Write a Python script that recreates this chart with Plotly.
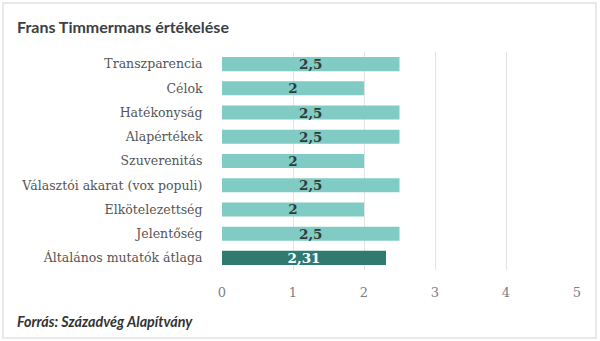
import plotly.graph_objects as go

categories = ["Transzparencia", "Célok", "Hatékonyság", "Alapértékek", "Szuverenitás",
              "Választói akarat (vox populi)", "Elkötelezettség", "Jelentőség",
              "Általános mutatók átlaga"]
values = [2.5, 2, 2.5, 2.5, 2, 2.5, 2, 2.5, 2.31]
bar_colors = ["#80cbc3"] * 8 + ["#2f7b70"]
text_colors = ["#2f3b3b"] * 8 + ["#ffffff"]
x_ticks = [0, 1, 2, 3, 4, 5]

W, H = 600, 341
L, R, T, B = 222, 23, 52, 71

fig = go.Figure(go.Bar(
    y=categories, x=values, orientation="h",
    marker=dict(color=bar_colors, line=dict(width=0)),
    text=[str(v).replace(".", ",") for v in values],
    textposition="inside", insidetextanchor="middle",
    textangle=0, constraintext="none", cliponaxis=False,
    textfont=dict(family="DejaVu Serif", size=13.5, color=text_colors, weight="bold"),
    hoverinfo="skip",
))

pw = W - L - R
ph = H - T - B
def px(x):
    return (x - L) / pw
def py(y):
    return 1 - (y - T) / ph

fig.update_layout(
    width=W, height=H,
    margin=dict(l=L, r=R, t=T, b=B, pad=0),
    paper_bgcolor="white", plot_bgcolor="white",
    separators=", ",
    bargap=0.42,
    showlegend=False,
    xaxis=dict(range=[0, 5], tickvals=x_ticks, showgrid=True, gridcolor="#e3e3e3", gridwidth=1,
               zeroline=False, showline=False, ticks="outside", ticklen=10,
               tickcolor="rgba(0,0,0,0)",
               tickfont=dict(family="DejaVu Serif", size=13, color="#808080"), fixedrange=True),
    yaxis=dict(autorange="reversed", showgrid=False, zeroline=False, showline=False,
               ticks="outside", ticklen=16, tickcolor="rgba(0,0,0,0)",
               tickfont=dict(family="DejaVu Serif", size=12.5, color="#555555"), fixedrange=True),
    shapes=[dict(type="rect", xref="paper", yref="paper",
                 x0=px(3), x1=px(596), y0=py(338), y1=py(3),
                 line=dict(color="#e2e2e2", width=1.5), fillcolor="rgba(0,0,0,0)", layer="below")],
    annotations=[
        dict(text="<b>Frans Timmermans értékelése</b>", xref="paper", yref="paper",
             x=px(15), y=py(26), xanchor="left", yanchor="middle", showarrow=False,
             font=dict(family="Lato", size=16, color="#3a3f44")),
        dict(text="<b><i>Forrás: Századvég Alapítvány</i></b>", xref="paper", yref="paper",
             x=px(15), y=py(321), xanchor="left", yanchor="middle", showarrow=False,
             font=dict(family="Lato", size=14.3, color="#333333")),
    ],
)

fig.write_html("out.html")
